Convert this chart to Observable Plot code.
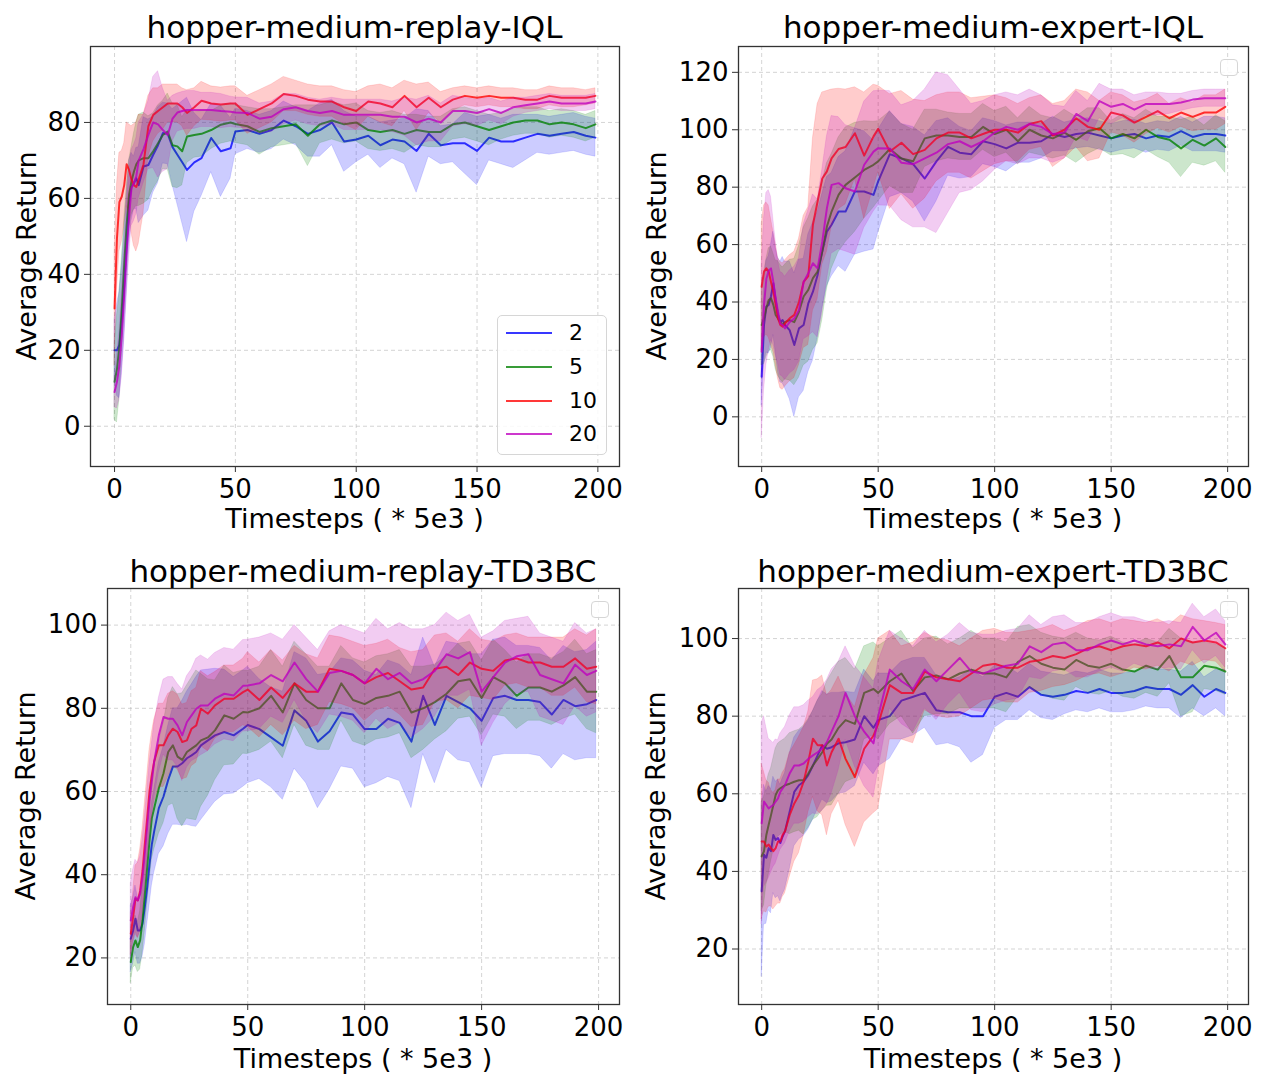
<!DOCTYPE html>
<html>
<head>
<meta charset="utf-8">
<script src="https://cdn.jsdelivr.net/npm/d3@7"></script>
<script src="https://cdn.jsdelivr.net/npm/@observablehq/plot@0.6"></script>
<style>
  body { margin: 0; background: #fff; font-family: "DejaVu Sans", sans-serif; }
  #fig { position: relative; width: 1262px; height: 1086px; overflow: hidden; background: #fff; }
  .panel { position: absolute; }
  .title { position: absolute; font-size: 31px; color: #000; white-space: nowrap; transform: translate(-50%, -50%); line-height: 1; }
  .xlab { position: absolute; font-size: 27px; color: #000; white-space: nowrap; transform: translate(-50%, -50%); line-height: 1; }
  .ylab { position: absolute; font-size: 27px; color: #000; white-space: nowrap; transform: translate(-50%, -50%) rotate(-90deg); line-height: 1; }
  .legend { position: absolute; border: 1px solid #d6d6d6; border-radius: 5px; background: rgba(255,255,255,0.85); box-sizing: border-box; }
  .legrow { position: absolute; left: 0; width: 100%; height: 0; }
  .legline { position: absolute; left: 8px; width: 46px; height: 2px; top: -1px; }
  .legtxt { position: absolute; left: 71px; top: 0; font-size: 22px; line-height: 1; transform: translateY(-50%); color: #000; }
  .emptyleg { position: absolute; width: 18px; height: 17px; border: 1px solid #d6d6d6; border-radius: 4px; background: rgba(255,255,255,0.85); box-sizing: border-box; }
</style>
</head>
<body>
<div id="fig"></div>
<script>
// ---------------- data ----------------
const steps = [0,1,2,3,4,5,6,7,8,9,10,12,14,16,18,20,22,24,26,28,30,33,36,40,44,48,50,55,60,65,70,75,80,85,90,95,100,105,110,115,120,125,130,135,140,145,150,155,160,165,170,175,180,185,190,195,199];
const seriesLabels = ["2", "5", "10", "20"];
const seriesColors = ["#0000ff", "#008000", "#ff0000", "#bf00bf"];
const xTicks = [0, 50, 100, 150, 200];
const titles = ["hopper-medium-replay-IQL", "hopper-medium-expert-IQL", "hopper-medium-replay-TD3BC", "hopper-medium-expert-TD3BC"];
const xLabel = "Timesteps ( * 5e3 )";
const yLabel = "Average Return";
const yTicksMrIql = [0, 20, 40, 60, 80];
const yTicksMeIql = [0, 20, 40, 60, 80, 100, 120];
const yTicksMrTd3 = [20, 40, 60, 80, 100];
const yTicksMeTd3 = [20, 40, 60, 80, 100];

// hopper-medium-replay-IQL
const mrIqlMean2  = [20,20,21.4,28,37,47.7,59,63,64,65.3,63.5,68.4,68.8,71.5,74,77.2,77,73.5,71.5,69.5,67.5,69.5,70.6,75.9,72.4,73.2,77.6,78,77,78,80.5,79,77,78,80,75,75.5,76.5,74,75.5,75,72.5,77,74,74.5,74.5,72.5,76,75,75,76,77,76.5,77,77.5,76.5,76];
const mrIqlStd2   = [8,12,14,14,14,13,11,9,7,8,10,13,12,10,10,8,8,10,13,16,19,13,10,9,12,8,6,5,5,5,5,5,6,7,6,8,6,5,6,5,6,11,6,5,5,8,9,6,6,7,6,5,5,5,5,5,5];
const mrIqlMean5  = [11.7,15,21,31,42.5,53,61,64.5,67,69,70,70.6,70.6,72.4,74.5,76.7,77.6,74,73.7,72.4,76.3,76.7,77,78,79.4,80,79.6,79,77.5,78.5,79,79.5,76.5,79.5,80.5,79.5,80,78,77.5,78,77,78,77.5,77.5,79.5,80,79,78,79,80,80.5,80.5,79.5,80,79.5,78.5,79.5];
const mrIqlStd5   = [10,14,14,13,12,10,9,9,10,11,12,12,11,10,10,9,10,11,11,9,7,6,6,5,5,5,5,5,6,5,5,5,8,5,5,5,5,5,5,5,5,4,4,4,4,4,4,4,3.5,3.5,3.5,3.5,3.5,3.5,3.5,3.5,3.5];
const mrIqlMean10 = [31,49.5,59,60.5,63.5,69,67.5,65,63.5,63,65,69,79,82,83,84,85,85,85,84,82.5,84,85.7,85,84.7,85,85,82,83.5,85,87.5,87,86,85.5,85.5,84,83,85.5,85,84,87,84,86.5,84,86,87,86.5,87,86.5,86.5,86,86,87,86.5,86.5,86.5,87];
const mrIqlStd10  = [15,14,13,12,11,11,12,14,16,17,17,13,8,7,6,6,5,5,5,5,6,5,5,4.5,4.5,4.5,4.5,5,5,5,4.5,4,4,4,4,4.5,5,4,5,5,4,6,4,4,3,2.5,2.5,2.5,2.5,2.5,2.5,2.5,2.5,2.5,2.5,2,2];
const mrIqlMean20 = [9,11.7,16,24,34.5,46,55,62.7,64,65.8,70,73,76.7,80,79.5,78,76.7,81,82.6,83,83.3,83.3,83.3,83.3,83,82.8,82.6,82.5,81,81.5,83.5,84,83,82.5,83,82,82,82,82,81.5,81.5,80,81,80,83,83,82.5,83.5,82.5,84,84.5,85,85.5,85,85,85,85.5];
const mrIqlStd20  = [4,7,9,11,12,12,11,10,10,10,10,9,9,12,14,11,9,6,5,5,5,5,4.5,4.5,4.5,4,4,4,4,4,4,3.5,3.5,3.5,3.5,4,4,4,4,4,5,6,6,5,4,3.5,3.5,3,3,2.5,2,2,2,2,2,2,2];

// hopper-medium-expert-IQL
const meIqlMean2  = [14,32,38.4,39,42,46.5,40.7,35.5,33,33.7,32,30.2,25,30.8,32,39.5,43.6,49.4,57.6,64.5,66.9,71.5,71.5,78.5,78.5,77.3,82,91.5,90,88,83,89,94,92,91.5,96,95,93.5,95.5,95.5,96,98.5,97.5,98.5,99,98,97,98,98.5,97,98,97.5,99.5,97.5,98.5,98.5,98];
const meIqlStd2   = [10,14,16,17,18,18,18,20,21,22,22,24,25,24,23,24,24,22,20,19,18,19,21,22,21,19,18,15,12,13,15,14,10,9,8,8,8,8,7,7,6,6,5,5,5,5,5,5,5,5,5,5,5,5,6,6,6];
const meIqlMean5  = [32,34.3,37.8,40.7,41.3,39,35.5,34.3,33,32,33,33.7,33,36.6,41.9,44.2,48.3,50.6,57.6,66.3,71.5,77.3,80.8,83.4,86,87.8,89,93.3,90,89,97,98,98,97.5,97.5,101,98.5,100,96,100,98,97,99,96.5,99.5,100.5,97,98.5,97,100,97.5,96.5,93.5,96.5,94.5,97,94];
const meIqlStd5   = [14,16,17,18,18,18,19,20,20,20,20,21,22,23,24,25,25,25,24,22,20,20,20,19,17,15,14,13,12,11,10,9,8,8,8,8,8,8,8,8,7,7,8,8,8,7,6,7,7,7,7,8,10,8,7,8,9];
const meIqlMean10 = [45.3,50.6,51.7,50.6,47,43.6,39,34.3,32,31.4,32.5,34.3,35.5,40,47,49,67,75,83,85.5,90,93.3,94,98.8,91,97.7,100.3,92.4,95.5,91.5,93,97,99,99,97,98.5,100,100,99,102,103,98,100,104,101,100,106,105,102.5,104.5,106.5,104,106,104.5,106,106,108];
const meIqlStd10  = [22,23,23,23,22,21,21,21,22,22,22,22,22,22,23,24,30,34,30,28,24,21,20,16,22,18,15,20,18,19,17,15,14,14,14,13,12,11,10,9,9,11,10,10,12,10,7,7,7,6,6,5,5,5,6,6,6];
const meIqlMean20 = [22.7,39,48,51,51.7,47,41.3,36.6,32.5,32,30.8,33,34.3,37.2,47,50,53.5,51.7,61,72.7,80.8,81.4,79.6,78.5,87.8,92.4,93.6,93.5,88.5,88,90,92,95,96,94,96,99,101,100,102,101,98.5,99,105.5,103,110,108,109,107,109,109,109,109.5,110.5,111,111,111];
const meIqlStd20  = [30,30,30,28,25,22,20,18,18,18,18,18,18,18,20,22,24,24,25,25,24,23,22,22,22,21,20,20,20,22,24,28,24,18,15,14,13,12,12,12,11,10,9,8,7,6,6,5,5,4,4,3.5,3,3,3,3,3];

// hopper-medium-replay-TD3BC
const mrTd3Mean2  = [24.6,26.6,29.4,26.6,26.6,28.2,32.2,36.9,42.5,47.3,50.4,56,58.8,62.8,66,66,66.8,68,68.7,69.5,71.1,72.3,73.5,74.3,73.5,75.1,76,75,73,71,79.5,77,72,74.5,79,78.5,75,75,77.5,76.5,72,83,76,83,81.5,80,77,82.5,83,82,82,81.5,78.5,82,80.5,81,82];
const mrTd3Std2   = [8,8,8,8,8,8,9,9,10,10,10,11,12,13,14,14,15,16,17,18,18,17,16,15,14,14,14,12,12,13,14,15,16,14,13,13,14,13,14,14,16,14,14,13,14,13,16,14,14,13,13,13,13,13,13,13,14];
const mrTd3Mean5  = [19,22.6,24.2,22.6,24.2,29,35.3,41.7,48.1,53.6,56,60.8,64.4,69.5,71.1,68.4,67.6,69.5,70.3,71.1,72.3,73,74.7,78.3,77.5,79.1,79,80,83,79,86,82,80,80,86,82,81,82.5,83,84,79,80,81.5,83.5,86.5,87,82.5,87.5,86,83,85,85,84,85.5,87.5,84,84];
const mrTd3Std5   = [5,5,6,6,7,8,9,9,10,10,10,11,12,13,14,15,16,16,17,18,16,14,12,12,11,10,10,10,11,11,10,11,10,10,9,10,10,10,10,10,11,10,9,9,9,9,9,9,8,8,8,8,8,8,9,9,10];
const mrTd3Mean10 = [25.8,29.8,34.2,33.8,36.1,40.9,47.3,53.6,60,64,67.2,71.1,71.1,73.5,75.1,74.3,71.9,72.3,75.1,75.9,79.9,78.7,80.7,82.3,82.3,83.9,84.5,82,85,82.5,86,84,84,89.5,89,88,86,87.5,88.5,86.5,84.5,85,89.5,90,88,91,89.5,89,91.5,92,91,91,90,90,92,89.5,90];
const mrTd3Std10  = [5,6,8,9,10,10,10,10,10,10,10,10,10,10,9,9,9,9,9,9,9,9,8,8,8,8,9,9,9,9,9,9,8,8,8,8,9,8,8,8,9,9,8,8,8,8,7,7,6,6,6,6,7,7,7,8,9];
const mrTd3Mean20 = [29,32.2,34.6,33.8,35.4,39.3,44.9,51.3,57.6,62.4,67.2,73.5,77.9,77.5,77.5,75.9,73.5,76.7,78.3,79.9,80.7,80.7,82.3,83.5,83.1,85.4,85.5,86,88,86.5,91,87,84,88.5,89,88,86,89.5,87,88.5,86,87,89,93,92,93.5,84,87.5,91,92.5,93,88,87,86,90.5,88,89];
const mrTd3Std20  = [9,9,9,9,9,9,9,9,9,9,9,9,9,10,10,10,11,11,11,12,12,11,11,11,11,11,11,11,10,10,9,10,10,10,11,11,12,12,12,12,13,12,11,10,9,9,13,11,10,9,9,10,10,10,10,10,10];

// hopper-medium-expert-TD3BC
const meTd3Mean2  = [34.9,44.3,43.5,46,45.2,49.4,48.1,48.6,47.3,49,50.3,55.4,60.5,62.2,63.1,64.8,67.3,69.9,72.5,71.6,72,73,73.3,74,80,77,79,80,84,85,86,81.5,81,81,80,80,85,86,85,87.5,85.5,85,85.5,86.5,86,87,86,86,86.5,87.5,87,87,85.5,88,85,87,86];
const meTd3Std2   = [22,18,17,16,16,15,15,15,15,15,15,15,14,14,14,14,14,14,14,14,14,13,13,12,12,12,12,11,10,10,9,9,8,9,12,10,8,7,6,6,6,6,5,5,5,5,5,5,5,5,5,5,6,6,5,5,6];
const meTd3Mean5  = [43.9,45.2,49.4,52,54.5,57.1,59.7,60.9,61.4,61.8,62.2,62.6,63.1,63.5,63.5,65.2,67.3,69,70.7,72.9,74,77,79,78,86,87,86,89,91,86.5,90,90.5,89.5,91,92,91,91,90,94,95.5,93.5,92.5,92,94.5,93,92.5,93.5,92,91.5,93,92,95.5,90,90,93,92.5,91.5];
const meTd3Std5   = [14,14,13,13,12,12,12,12,12,12,12,13,13,13,14,14,14,15,15,16,17,17,16,14,12,12,12,11,11,11,10,10,9,9,10,9,9,9,9,8,8,8,8,7,7,7,7,7,7,7,7,7,10,9,6,6,6];
const meTd3Mean10 = [47.7,47.7,46.4,46.9,46,45.2,46,47.7,47.7,49.4,50.3,54.5,57.5,59.7,63.1,68.2,74.2,72.5,72.5,67.3,70.7,74.2,69,64.3,71.6,75,78,88,86,86,91.5,90,89.5,89,91,93,93.5,92.5,92.5,94,94.5,95.5,95,96,97.5,98,97,98,98.5,98,99,97.5,100,99,99.5,99,97.5];
const meTd3Std10  = [20,18,17,16,15,15,15,16,16,16,16,16,15,15,14,13,15,17,18,18,16,16,17,18,19,20,22,14,12,13,10,10,10,9,9,9,9,9,9,8,8,8,7,7,7,7,7,7,6,6,6,6,6,6,5,5,6];
const meTd3Mean20 = [52.4,58,57.1,56.2,56.7,57.1,58,58.8,60.5,61.4,62.2,65.2,67.3,67.3,67.8,69,69.9,70.7,71.6,73.3,76,80,86,80,76,73,80,92,89,87,92,89,92,95,91.5,91,92,93,93.5,98,96.5,98.5,99,97,97,98.5,99.5,98.5,99.5,98.5,98,98.5,98,103,99.5,101.5,98.5];
const meTd3Std20  = [26,22,20,18,17,16,16,15,15,15,15,15,15,15,15,15,15,16,16,16,16,14,12,13,14,14,14,10,11,11,10,10,9,9,10,10,9,9,9,8,7,7,7,7,7,7,7,7,6,6,6,6,6,6,6,6,6];

// ---------------- layout ----------------
const panels = [
  { title: titles[0], means: [mrIqlMean2, mrIqlMean5, mrIqlMean10, mrIqlMean20], stds: [mrIqlStd2, mrIqlStd5, mrIqlStd10, mrIqlStd20],
    left: 0, top: 0, width: 631, height: 540, mL: 90, mR: 12, mT: 46, mB: 74, yDomain: [-10.6, 100], yTicks: yTicksMrIql,
    titleY: 27, xLabY: 518, yLabX: 25.5, legend: "full" },
  { title: titles[1], means: [meIqlMean2, meIqlMean5, meIqlMean10, meIqlMean20], stds: [meIqlStd2, meIqlStd5, meIqlStd10, meIqlStd20],
    left: 631, top: 0, width: 631, height: 540, mL: 107, mR: 14, mT: 46, mB: 74, yDomain: [-17.3, 129], yTicks: yTicksMeIql,
    titleY: 27, xLabY: 518, yLabX: 655.5, legend: "empty" },
  { title: titles[2], means: [mrTd3Mean2, mrTd3Mean5, mrTd3Mean10, mrTd3Mean20], stds: [mrTd3Std2, mrTd3Std5, mrTd3Std10, mrTd3Std20],
    left: 0, top: 540, width: 631, height: 546, mL: 107, mR: 12, mT: 48, mB: 82, yDomain: [8.8, 108.8], yTicks: yTicksMrTd3,
    titleY: 571, xLabY: 1058, yLabX: 25, legend: "empty" },
  { title: titles[3], means: [meTd3Mean2, meTd3Mean5, meTd3Mean10, meTd3Mean20], stds: [meTd3Std2, meTd3Std5, meTd3Std10, meTd3Std20],
    left: 631, top: 540, width: 631, height: 546, mL: 107, mR: 14, mT: 48, mB: 82, yDomain: [5.7, 112.9], yTicks: yTicksMeTd3,
    titleY: 571, xLabY: 1058, yLabX: 655, legend: "empty" }
];

const fig = document.getElementById("fig");

function addDiv(cls, text, left, top, extra) {
  const d = document.createElement("div");
  d.className = cls;
  if (text != null) d.textContent = text;
  d.style.left = left + "px";
  d.style.top = top + "px";
  if (extra) Object.assign(d.style, extra);
  fig.appendChild(d);
  return d;
}

for (const p of panels) {
  const marks = [
    Plot.gridX(xTicks, { stroke: "#b0b0b0", strokeOpacity: 0.55, strokeDasharray: "4,3", strokeWidth: 1 }),
    Plot.gridY(p.yTicks, { stroke: "#b0b0b0", strokeOpacity: 0.55, strokeDasharray: "4,3", strokeWidth: 1 })
  ];
  seriesLabels.forEach((lab, k) => {
    const rows = steps.map((s, i) => ({ x: s, m: p.means[k][i], lo: p.means[k][i] - p.stds[k][i], hi: p.means[k][i] + p.stds[k][i] }));
    marks.push(Plot.lineY(rows, { x: "x", y: "m", stroke: seriesColors[k], strokeWidth: 2, strokeOpacity: 0.78, clip: true }));
    marks.push(Plot.areaY(rows, { x: "x", y1: "lo", y2: "hi", fill: seriesColors[k], fillOpacity: 0.2, stroke: seriesColors[k], strokeOpacity: 0.12, strokeWidth: 1, clip: true }));
  });
  marks.push(Plot.frame({ stroke: "#333", strokeWidth: 1.3 }));
  marks.push(Plot.axisX(xTicks, { tickSize: 6, tickPadding: 7, fontSize: 26, label: null, stroke: "#333" }));
  marks.push(Plot.axisY(p.yTicks, { tickSize: 6, tickPadding: 4, fontSize: 26, label: null, stroke: "#333" }));

  const svg = Plot.plot({
    width: p.width, height: p.height,
    marginLeft: p.mL, marginRight: p.mR, marginTop: p.mT, marginBottom: p.mB,
    x: { domain: [-9.95, 208.95] },
    y: { domain: p.yDomain },
    style: { fontFamily: "DejaVu Sans", color: "#000", background: "transparent", overflow: "visible" },
    marks
  });
  const holder = addDiv("panel", null, p.left, p.top, { width: p.width + "px", height: p.height + "px" });
  holder.appendChild(svg);

  const fl = p.left + p.mL, fr = p.left + p.width - p.mR;
  const ft = p.top + p.mT, fb = p.top + p.height - p.mB;
  const cx = (fl + fr) / 2, cy = (ft + fb) / 2;
  addDiv("title", p.title, cx, p.titleY);
  addDiv("xlab", xLabel, cx, p.xLabY);
  addDiv("ylab", yLabel, p.yLabX, cy);

  if (p.legend === "full") {
    const lg = addDiv("legend", null, 497, 315, { width: "110px", height: "140px" });
    const rowY = [17, 51, 85, 118];
    seriesLabels.forEach((lab, k) => {
      const r = document.createElement("div");
      r.className = "legrow";
      r.style.top = rowY[k] + "px";
      const ln = document.createElement("div");
      ln.className = "legline";
      ln.style.background = seriesColors[k];
      ln.style.opacity = 0.78;
      const tx = document.createElement("div");
      tx.className = "legtxt";
      tx.textContent = lab;
      r.appendChild(ln); r.appendChild(tx);
      lg.appendChild(r);
    });
  } else {
    addDiv("emptyleg", null, fr - 28, ft + 13);
  }
}
</script>
</body>
</html>
